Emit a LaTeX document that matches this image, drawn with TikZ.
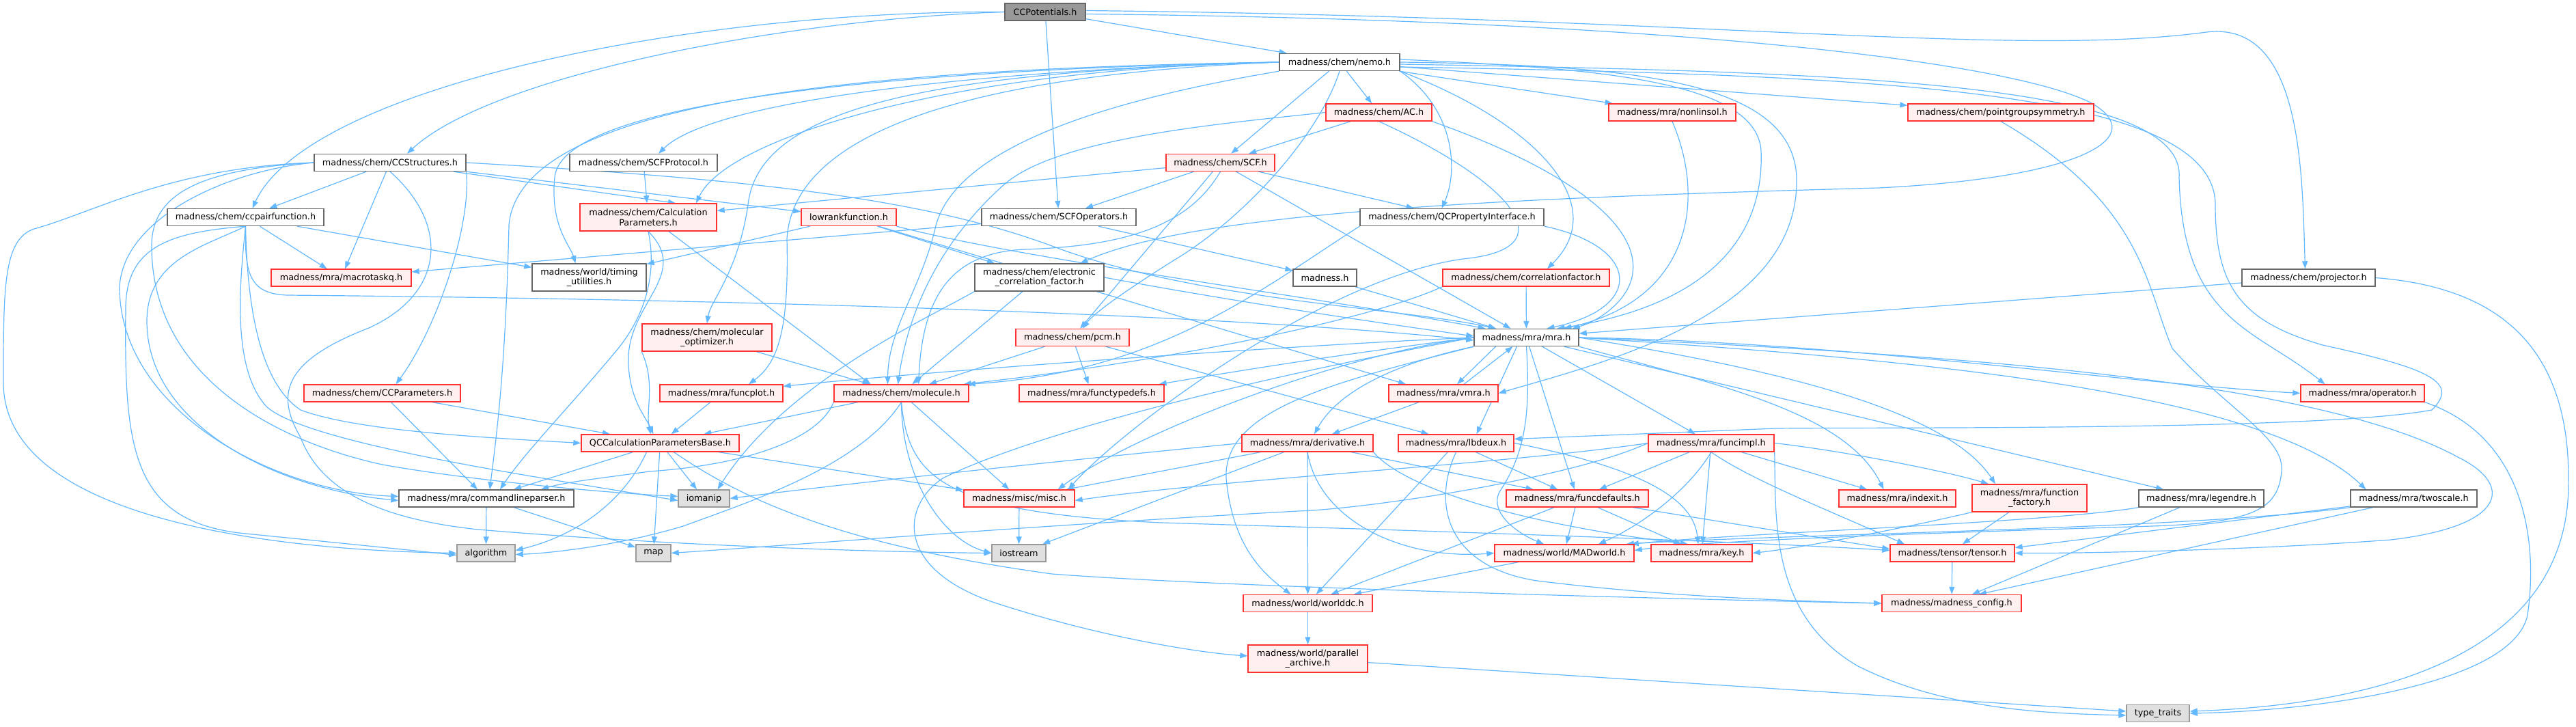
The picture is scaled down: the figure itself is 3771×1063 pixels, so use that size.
\documentclass[tikz,border=0pt]{standalone}
\usepackage{fontspec}
\setmainfont{DejaVu Sans}
\usetikzlibrary{arrows.meta}
\definecolor{eb}{HTML}{63B8FF}
\definecolor{rb}{HTML}{FF3030}
\definecolor{rf}{HTML}{FFF0F0}
\definecolor{wb}{HTML}{666666}
\definecolor{gf}{HTML}{E0E0E0}
\definecolor{gb}{HTML}{999999}
\newcommand{\nodefont}{\fontsize{12.8pt}{14.5pt}\selectfont}
\newcommand{\nd}[7]{\node[#2,minimum width=#5pt,minimum height=#6pt] (#1) at (#3,#4) {#7};}
\pgfdeclarelayer{bg}
\pgfsetlayers{bg,main}
\tikzset{
 nbase/.style={draw, line width=1.4pt, inner sep=0pt, align=center, font=\nodefont, text=black},
 wn/.style={nbase, draw=wb, fill=white},
 rn/.style={nbase, draw=rb, fill=rf},
 gn/.style={nbase, draw=gb, fill=gf},
 rootn/.style={nbase, draw=wb, fill=gb},
 edg/.style={draw=eb, line width=1.2pt, -{Triangle[length=11pt,width=8pt]}},
}
\begin{document}
\begin{tikzpicture}[x=1pt,y=-1pt]
\useasboundingbox (0,0) rectangle (3771,1063);
% nodes
\nd{P}{rootn}{1530}{17.5}{118}{25}{CCPotentials.h}
\nd{nemo}{wn}{1961}{91}{176}{25}{madness/chem/nemo.h}
\nd{CS}{wn}{571}{238}{222}{25}{madness/chem/CCStructures.h}
\nd{SCFProt}{wn}{942}{238}{216}{25}{madness/chem/SCFProtocol.h}
\nd{SCF}{rn}{1786.5}{238}{159}{25}{madness/chem/SCF.h}
\nd{AC}{rn}{2018.5}{164.5}{155}{25}{madness/chem/AC.h}
\nd{nonlinsol}{rn}{2448}{164.5}{186}{25}{madness/mra/nonlinsol.h}
\nd{pgs}{rn}{2929}{164.5}{272}{25}{madness/chem/pointgroupsymmetry.h}
\nd{projector}{wn}{3379.5}{406.5}{195}{25}{madness/chem/projector.h}
\nd{CP}{wn}{359.5}{318}{229}{25}{madness/chem/ccpairfunction.h}
\nd{CalcP}{rn}{949}{318}{200}{40}{madness/chem/Calculation\\Parameters.h}
\nd{lowrank}{rn}{1242.5}{318}{139}{25}{lowrankfunction.h}
\nd{SCFOps}{wn}{1550}{318}{226}{25}{madness/chem/SCFOperators.h}
\nd{QCProp}{wn}{2125.5}{318}{269}{25}{madness/chem/QCPropertyInterface.h}
\nd{macrotaskq}{rn}{499.5}{406.5}{205}{25}{madness/mra/macrotaskq.h}
\nd{timing}{wn}{862.5}{406}{167}{40}{madness/world/timing\\\_utilities.h}
\nd{ecf}{wn}{1521.5}{406}{189}{40}{madness/chem/electronic\\\_correlation\_factor.h}
\nd{madnessh}{wn}{1939.5}{406.5}{93}{25}{madness.h}
\nd{corrfac}{rn}{2234}{406.5}{244}{25}{madness/chem/correlationfactor.h}
\nd{molopt}{rn}{1035}{494}{190}{40}{madness/chem/molecular\\\_optimizer.h}
\nd{pcm}{rn}{1570}{494}{166}{25}{madness/chem/pcm.h}
\nd{mra}{wn}{2234.5}{494}{153}{25}{madness/mra/mra.h}
\nd{CCParam}{rn}{559.5}{575.5}{229}{25}{madness/chem/CCParameters.h}
\nd{funcplot}{rn}{1056}{575.5}{180}{25}{madness/mra/funcplot.h}
\nd{molecule}{rn}{1319.5}{575.5}{197}{25}{madness/chem/molecule.h}
\nd{functypedefs}{rn}{1598}{575.5}{212}{25}{madness/mra/functypedefs.h}
\nd{vmra}{rn}{2113}{575.5}{160}{25}{madness/mra/vmra.h}
\nd{operator}{rn}{3458.5}{575.5}{181}{25}{madness/mra/operator.h}
\nd{QB}{rn}{966.5}{648.5}{231}{25}{QCCalculationParametersBase.h}
\nd{derivative}{rn}{1914}{648.5}{192}{25}{madness/mra/derivative.h}
\nd{lbdeux}{rn}{2131.5}{648.5}{169}{25}{madness/mra/lbdeux.h}
\nd{funcimpl}{rn}{2505}{648.5}{184}{25}{madness/mra/funcimpl.h}
\nd{clp}{wn}{712}{729.5}{256}{25}{madness/mra/commandlineparser.h}
\nd{iomanip}{gn}{1030.5}{729.5}{75}{25}{iomanip}
\nd{misc}{rn}{1492}{729.5}{162}{25}{madness/misc/misc.h}
\nd{funcdefaults}{rn}{2309}{729.5}{208}{25}{madness/mra/funcdefaults.h}
\nd{indexit}{rn}{2777.5}{729.5}{171}{25}{madness/mra/indexit.h}
\nd{funcfactory}{rn}{2971}{729}{168}{40}{madness/mra/function\\\_factory.h}
\nd{legendre}{wn}{3222.5}{729.5}{183}{25}{madness/mra/legendre.h}
\nd{twoscale}{wn}{3533.5}{729.5}{185}{25}{madness/mra/twoscale.h}
\nd{algorithm}{gn}{711.5}{809.5}{85}{25}{algorithm}
\nd{map}{gn}{956.5}{809.5}{51}{25}{map}
\nd{iostream}{gn}{1491.5}{809.5}{79}{25}{iostream}
\nd{MADworld}{rn}{2290}{809.5}{204}{25}{madness/world/MADworld.h}
\nd{key}{rn}{2491}{809.5}{148}{25}{madness/mra/key.h}
\nd{tensor}{rn}{2858}{809.5}{182}{25}{madness/tensor/tensor.h}
\nd{worlddc}{rn}{1914.5}{883}{189}{25}{madness/world/worlddc.h}
\nd{config}{rn}{2857}{883}{204}{25}{madness/madness\_config.h}
\nd{parch}{rn}{1914.5}{964}{175}{40}{madness/world/parallel\\\_archive.h}
\nd{typetraits}{gn}{3159}{1044}{92}{25}{type\_traits}
\begin{pgfonlayer}{bg}
\fill[white] (0,0) rectangle (3771,1063);
% CCPotentials
\draw[edg] (P) -- (nemo);
\draw[edg] (P) -- (SCFOps);
\draw[edg] (P.west) .. controls (1150,28) and (720,110) .. ([xshift=25pt]CS.north);
\draw[edg] (P.west) .. controls (1000,15) and (450,130) .. ([xshift=10pt]CP.north);
\draw[edg] ([yshift=2pt]P.east) .. controls (2500,25) and (2950,85) .. (3230,47) .. controls (3370,30) and (3370,250) .. ([xshift=-5pt]projector.north);
\draw[edg] ([yshift=-3pt]P.east) .. controls (2500,30) and (2950,95) .. (3060,150) .. controls (3150,200) and (3050,260) .. (2750,275) .. controls (2200,290) and (1750,310) .. ([xshift=60pt]ecf.north);
% nemo
\draw[edg] (nemo) -- (SCF);
\draw[edg] (nemo) -- (AC);
\draw[edg] (nemo) -- (nonlinsol);
\draw[edg] (nemo) -- (pgs);
\draw[edg] (nemo.west) .. controls (1500,100) and (1050,140) .. ([xshift=22pt]SCFProt.north);
\draw[edg] (nemo.west) .. controls (1400,100) and (1065,200) .. ([xshift=70pt]CalcP.north);
\draw[edg] (nemo.west) .. controls (1300,100) and (760,140) .. (745,330) .. controls (740,550) and (725,650) .. ([xshift=5pt]clp.north);
\draw[edg] (nemo.west) .. controls (1300,102) and (820,150) .. (812,260) .. controls (805,330) and (835,360) .. ([xshift=-20pt]timing.north);
\draw[edg] (nemo.west) .. controls (1350,105) and (1110,160) .. (1095,300) .. controls (1080,400) and (1040,440) .. (molopt.north);
\draw[edg] (nemo.west) .. controls (1400,110) and (1160,200) .. (1152,350) .. controls (1155,480) and (1140,530) .. ([xshift=40pt]funcplot.north);
\draw[edg] (nemo.south west) .. controls (1600,150) and (1400,220) .. (1370,330) .. controls (1350,420) and (1300,480) .. ([xshift=-20pt]molecule.north);
\draw[edg] (nemo.south) .. controls (1930,200) and (1820,320) .. (1720,380) .. controls (1640,430) and (1600,460) .. ([xshift=15pt]pcm.north);
\draw[edg] (nemo.south east) .. controls (2130,160) and (2135,250) .. ([xshift=-15pt]QCProp.north);
\draw[edg] (nemo.south east) .. controls (2250,180) and (2360,300) .. ([xshift=31pt]corrfac.north);
\draw[edg] ([yshift=4pt]nemo.east) .. controls (2350,100) and (2570,120) .. (2578,220) .. controls (2585,400) and (2420,460) .. ([xshift=45pt]mra.north);
\draw[edg] (nemo.east) .. controls (2400,95) and (2625,120) .. (2630,260) .. controls (2635,460) and (2350,530) .. (vmra.east);
\draw[edg] ([yshift=-3pt]nemo.east) .. controls (2700,105) and (3200,120) .. (3190,260) .. controls (3195,470) and (3300,480) .. ([xshift=-55pt]operator.north);
\draw[edg] ([yshift=-7pt]nemo.east) .. controls (2750,110) and (3243,130) .. (3243,300) .. controls (3243,420) and (3280,470) .. (3400,505) .. controls (3560,540) and (3600,560) .. (3560,600) .. controls (3400,630) and (2800,625) .. (2600,627) -- ([yshift=6pt]lbdeux.east);
% CCStructures
\draw[edg] (CS) -- (CP);
\draw[edg] (CS) -- (macrotaskq);
\draw[edg] (CS) -- ([xshift=40pt]CalcP.north);
\draw[edg] (CS) -- (lowrank);
\draw[edg] (CS.east) .. controls (1100,262) and (1350,290) .. (1540,360) .. controls (1750,440) and (2050,450) .. ([xshift=-45pt]mra.north);
\draw[edg] (CS.south east) .. controls (690,330) and (640,480) .. ([xshift=20pt]CCParam.north);
\draw[edg] (CS.west) .. controls (250,245) and (140,310) .. (50,335) .. controls (5,350) and (5,420) .. (5,560) .. controls (5,760) and (400,805) .. (algorithm.west);
\draw[edg] (CS.west) .. controls (330,250) and (180,320) .. (175,420) .. controls (175,600) and (400,720) .. ([yshift=3pt]clp.west);
\draw[edg] (CS.west) .. controls (280,248) and (222,290) .. (222,360) .. controls (222,560) and (420,650) .. (560,680) .. controls (700,705) and (900,722) .. ([yshift=3pt]iomanip.west);
\draw[edg] (CS.south) .. controls (660,330) and (650,430) .. (540,480) .. controls (410,530) and (405,580) .. (440,640) .. controls (470,720) and (560,760) .. (700,775) .. controls (1000,800) and (1300,808) .. (iostream.west);
% ccpairfunction
\draw[edg] (CP) -- (macrotaskq);
\draw[edg] (CP) -- (timing);
\draw[edg] (CP.south) .. controls (358,400) and (365,430) .. (420,432) .. controls (1300,440) and (1900,470) .. ([yshift=-4pt]mra.west);
\draw[edg] (CP.south) .. controls (250,340) and (185,360) .. (184,450) .. controls (182,650) and (190,760) .. (350,780) .. controls (500,795) and (600,805) .. ([yshift=-3pt]algorithm.west);
\draw[edg] (CP.south) .. controls (300,360) and (215,380) .. (215,470) .. controls (215,620) and (400,715) .. ([yshift=-3pt]clp.west);
\draw[edg] (CP.south) .. controls (350,420) and (340,540) .. (390,595) .. controls (450,650) and (800,700) .. ([yshift=-3pt]iomanip.west);
\draw[edg] (CP.south) .. controls (362,450) and (380,560) .. (440,600) .. controls (520,630) and (700,640) .. (QB.west);
% SCFProtocol, CalculationParameters
\draw[edg] (SCFProt) -- (CalcP);
\draw[edg] (CalcP.south) .. controls (962,400) and (945,460) .. (905,510) .. controls (830,600) and (770,660) .. ([xshift=20pt]clp.north);
\draw[edg] (CalcP.south) .. controls (1010,400) and (925,440) .. (920,520) .. controls (918,580) and (945,610) .. ([xshift=-10pt]QB.north);
\draw[edg] ([xshift=30pt]CalcP.south) -- ([xshift=-45pt]molecule.north);
% lowrankfunction
\draw[edg] (lowrank) -- (timing);
\draw[edg] (lowrank) -- (ecf);
\draw[edg] (lowrank.south east) .. controls (1500,380) and (1900,430) .. ([xshift=-60pt]mra.north);
\draw[edg] (lowrank) -- ([xshift=-55pt]vmra.north);
% SCFOperators
\draw[edg] (SCFOps) -- (macrotaskq);
\draw[edg] (SCFOps) -- (madnessh);
% SCF
\draw[edg] (SCF) -- (CalcP);
\draw[edg] (SCF) -- (SCFOps);
\draw[edg] (SCF) -- (pcm);
\draw[edg] (SCF) -- (mra);
\draw[edg] (SCF) -- (QCProp);
\draw[edg] (SCF.south) .. controls (1740,330) and (1650,360) .. (1500,365) .. controls (1380,370) and (1350,450) .. ([xshift=25pt]molecule.north);
% AC
\draw[edg] (AC) -- (SCF);
\draw[edg] (AC.south east) .. controls (2300,250) and (2400,330) .. (2390,400) .. controls (2385,440) and (2340,470) .. ([xshift=-10pt]mra.north east);
\draw[edg] (AC.west) .. controls (1800,180) and (1550,200) .. (1470,270) .. controls (1380,350) and (1330,450) .. ([xshift=-5pt]molecule.north);
\draw[edg] (AC.south) .. controls (2200,260) and (2300,360) .. (2150,378) .. controls (1950,400) and (1650,620) .. ([xshift=-10pt]misc.north east);
% nonlinsol, pointgroupsymmetry, QCPropertyInterface, correlationfactor
\draw[edg] (nonlinsol.south) .. controls (2500,300) and (2470,440) .. ([xshift=55pt]mra.north);
\draw[edg] (pgs.south) .. controls (3140,300) and (3141,420) .. (3180,510) .. controls (3260,600) and (3345,640) .. (3340,690) .. controls (3335,745) and (3300,765) .. (3150,770) .. controls (2900,778) and (2500,790) .. ([yshift=4pt]MADworld.east);
\draw[edg] (QCProp.south east) .. controls (2400,360) and (2410,450) .. ([xshift=30pt]mra.north);
\draw[edg] (QCProp.south west) .. controls (1850,420) and (1700,545) .. ([xshift=-2pt]molecule.north east);
\draw[edg] (corrfac) -- (mra);
\draw[edg] (corrfac.south west) .. controls (2000,470) and (1700,530) .. ([xshift=-8pt]molecule.north east);
% electronic_correlation_factor, molecular_optimizer, pcm, madness.h
\draw[edg] (ecf) -- (molecule);
\draw[edg] (ecf.south west) .. controls (1350,470) and (1150,560) .. ([xshift=20pt]iomanip.north);
\draw[edg] (ecf.east) .. controls (1800,440) and (2000,470) .. ([yshift=2pt]mra.west);
\draw[edg] (molopt) -- (molecule);
\draw[edg] (molopt.south west) .. controls (960,560) and (945,600) .. ([xshift=-14pt]QB.north);
\draw[edg] (pcm) -- (molecule);
\draw[edg] (pcm) -- (functypedefs);
\draw[edg] (pcm) -- ([xshift=-40pt]lbdeux.north);
\draw[edg] (madnessh) -- (mra);
\draw[edg] (projector) -- (mra);
% CCParameters, funcplot, molecule
\draw[edg] (CCParam) -- (clp);
\draw[edg] (CCParam) -- (QB);
\draw[edg] (funcplot) -- (QB);
\draw[edg] (molecule) -- (QB);
\draw[edg] (molecule.south west) .. controls (1200,640) and (1100,680) .. (950,690) .. controls (880,700) and (830,705) .. ([xshift=80pt]clp.north);
\draw[edg] (molecule.south) .. controls (1260,680) and (1110,730) .. (1000,770) .. controls (900,800) and (800,810) .. ([yshift=-2pt]algorithm.east);
\draw[edg] (molecule) -- (misc);
\draw[edg] (molecule.south) .. controls (1320,700) and (1380,790) .. (iostream.west);
\draw[edg] (molecule.south) .. controls (1330,700) and (1380,750) .. (1700,765) .. controls (2200,780) and (2600,795) .. ([yshift=4pt]tensor.west);
% vmra, mra
\draw[edg] ([xshift=30pt]vmra.north) -- ([xshift=-20pt]mra.south);
\draw[edg] ([xshift=-45pt]mra.south) -- ([xshift=20pt]vmra.north);
\draw[edg] (vmra) -- (derivative);
\draw[edg] (mra.south west) .. controls (2050,530) and (1960,570) .. ([xshift=10pt]derivative.north);
\draw[edg] ([xshift=-14pt]mra.south) -- ([xshift=30pt]lbdeux.north);
\draw[edg] (mra) -- (funcimpl);
\draw[edg] (mra.south) .. controls (2240,600) and (2235,660) .. (2195,720) .. controls (2180,750) and (2220,780) .. ([xshift=-30pt]MADworld.north);
\draw[edg] (mra) -- (funcdefaults);
\draw[edg] (mra.south east) .. controls (2500,560) and (2700,600) .. ([xshift=-20pt]indexit.north);
\draw[edg] (mra.east) .. controls (2600,540) and (2850,600) .. ([xshift=-50pt]funcfactory.north);
\draw[edg] (mra) -- (legendre);
\draw[edg] (mra.east) .. controls (2700,520) and (3300,560) .. ([xshift=-70pt]twoscale.north);
\draw[edg] (mra.east) .. controls (2700,500) and (3100,560) .. (operator.west);
\draw[edg] (mra.east) .. controls (2900,520) and (3400,560) .. (3600,670) .. controls (3680,710) and (3670,770) .. (3500,790) .. controls (3300,805) and (3050,810) .. (tensor.east);
\draw[edg] (mra.west) .. controls (1950,520) and (1650,640) .. ([xshift=-25pt]misc.north east);
\draw[edg] (mra.west) .. controls (1900,505) and (1400,540) .. ([yshift=-3pt]funcplot.north east);
\draw[edg] (mra.west) .. controls (1950,520) and (1800,545) .. ([xshift=-8pt]functypedefs.north east);
\draw[edg] (mra.south west) .. controls (1950,560) and (1790,600) .. (1795,700) .. controls (1804,800) and (1850,840) .. ([xshift=-25pt]worlddc.north);
\draw[edg] (mra.west) .. controls (1800,560) and (1500,640) .. (1380,700) .. controls (1320,740) and (1310,830) .. (1450,880) .. controls (1600,930) and (1750,955) .. ([yshift=4pt]parch.west);
% derivative
\draw[edg] (derivative.west) .. controls (1700,660) and (1300,700) .. (iomanip.east);
\draw[edg] (derivative) -- (misc);
\draw[edg] (derivative) -- (iostream);
\draw[edg] (derivative) -- (worlddc);
\draw[edg] (derivative.south) .. controls (1930,760) and (2050,820) .. (MADworld.west);
\draw[edg] (derivative) -- (funcdefaults);
\draw[edg] (derivative.south east) .. controls (2060,720) and (2250,770) .. ([xshift=-20pt]key.north);
% lbdeux
\draw[edg] (lbdeux) -- (worlddc);
\draw[edg] (lbdeux) -- (funcdefaults);
\draw[edg] (lbdeux.east) .. controls (2430,690) and (2480,740) .. ([xshift=-5pt]key.north);
\draw[edg] (lbdeux.south) .. controls (2095,740) and (2120,830) .. (2250,850) .. controls (2450,875) and (2650,880) .. (config.west);
% funcimpl
\draw[edg] (funcimpl) -- (funcdefaults);
\draw[edg] (funcimpl.south) .. controls (2470,720) and (2400,770) .. ([xshift=50pt]MADworld.north);
\draw[edg] (funcimpl) -- (key);
\draw[edg] (funcimpl) -- (indexit);
\draw[edg] (funcimpl.south) .. controls (2560,700) and (2660,740) .. ([xshift=-70pt]tensor.north);
\draw[edg] (funcimpl.east) .. controls (2700,660) and (2850,690) .. ([xshift=-60pt]funcfactory.north);
\draw[edg] (funcimpl.south east) .. controls (2600,760) and (2590,900) .. (2720,975) .. controls (2850,1040) and (3000,1044) .. ([yshift=-3pt]typetraits.west);
\draw[edg] (funcimpl.west) .. controls (2200,680) and (1800,700) .. ([yshift=-3pt]misc.east);
\draw[edg] (funcimpl.west) .. controls (2300,700) and (2000,745) .. (1900,748) .. controls (1500,770) and (1200,795) .. (map.east);
% funcdefaults, MADworld, tensor, others
\draw[edg] (funcdefaults) -- (MADworld);
\draw[edg] (funcdefaults) -- (key);
\draw[edg] (funcdefaults) -- ([yshift=6pt]tensor.west);
\draw[edg] (funcdefaults) -- (worlddc);
\draw[edg] (MADworld) -- (worlddc);
\draw[edg] (tensor) -- (config);
\draw[edg] (funcfactory) -- ([xshift=15pt]tensor.north);
\draw[edg] (funcfactory.south west) .. controls (2800,770) and (2650,800) .. (key.east);
\draw[edg] (legendre.south west) .. controls (3000,765) and (2550,780) .. ([xshift=-5pt]MADworld.north east);
\draw[edg] (legendre) -- ([xshift=30pt]config.north);
\draw[edg] (twoscale) -- ([yshift=8pt]tensor.east);
\draw[edg] (twoscale) -- ([xshift=40pt]config.north);
\draw[edg] (twoscale.south west) .. controls (3200,775) and (2600,782) .. ([xshift=-12pt]MADworld.north east);
\draw[edg] (worlddc) -- (parch);
\draw[edg] (parch) -- ([yshift=3pt]typetraits.west);
\draw[edg] (operator.south east) .. controls (3700,640) and (3715,800) .. (3700,900) .. controls (3680,1000) and (3400,1040) .. (typetraits.east);
\draw[edg] (projector.east) .. controls (3650,420) and (3760,500) .. (3760,700) .. controls (3765,950) and (3500,1030) .. ([yshift=3pt]typetraits.east);
% QCCalculationParametersBase
\draw[edg] ([xshift=-40pt]QB.south) -- ([xshift=40pt]clp.north);
\draw[edg] ([xshift=-20pt]QB.south) .. controls (920,720) and (860,780) .. ([yshift=4pt]algorithm.east);
\draw[edg] (QB) -- (map);
\draw[edg] (QB) -- (iomanip);
\draw[edg] (QB) -- (misc);
\draw[edg] ([xshift=20pt]QB.south) .. controls (1100,740) and (1250,800) .. (1540,840) .. controls (1800,860) and (2500,878) .. (config.west);
% misc, commandlineparser
\draw[edg] (misc) -- (iostream);
\draw[edg] (clp) -- (algorithm);
\draw[edg] (clp) -- (map);
\end{pgfonlayer}
\end{tikzpicture}
\end{document}
